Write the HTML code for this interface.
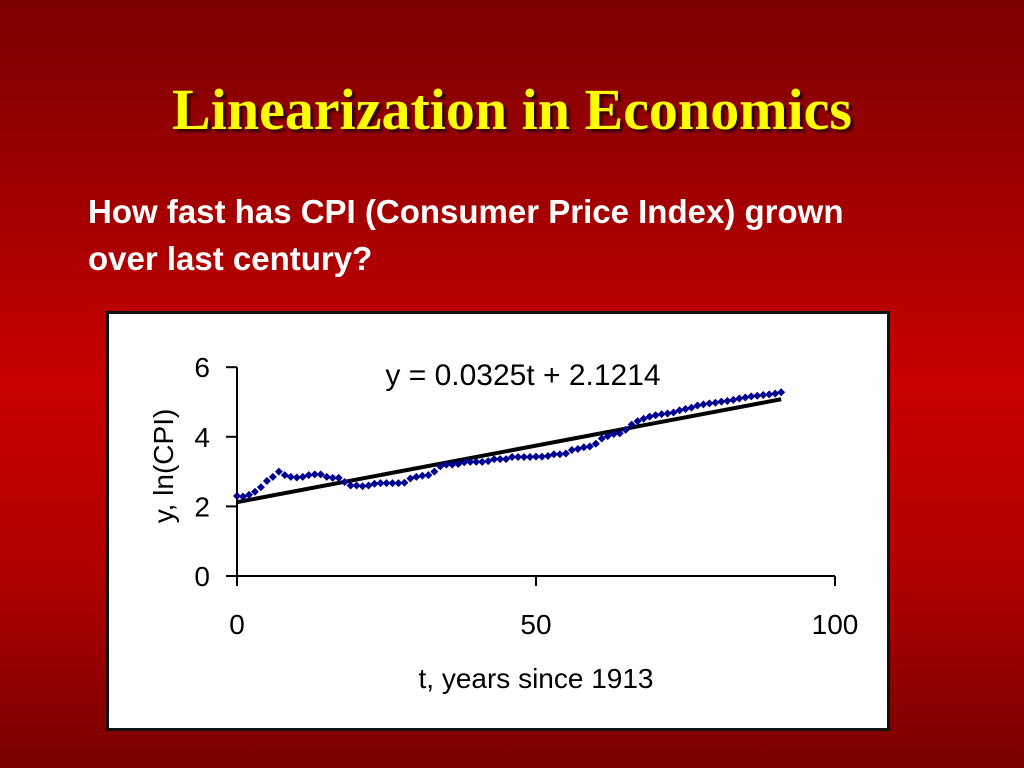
<!DOCTYPE html>
<html><head><meta charset="utf-8">
<style>
html,body{margin:0;padding:0}
body{width:1024px;height:768px;overflow:hidden;position:relative;
background:linear-gradient(to bottom,#7c0000 0%,#a00000 25%,#c80000 50%,#b00000 75%,#780000 100%);}
#title{position:absolute;left:0;width:1024px;top:76px;text-align:center;font-family:"Liberation Serif",serif;font-weight:bold;font-size:58px;color:#ffff00;text-shadow:3px 3px 2px #300;}
#sub{position:absolute;left:88px;top:188px;font-family:"Liberation Sans",sans-serif;font-weight:bold;font-size:33px;line-height:47px;color:#fff;}
#box{position:absolute;left:106px;top:311px;width:778px;height:414px;background:#fff;border:3px solid #111;}
svg{position:absolute;left:0;top:0}
</style></head><body>
<div id="title">Linearization in Economics</div>
<div id="sub">How fast has CPI (Consumer Price Index) grown<br>over last century?</div>
<div id="box"></div>
<svg id="chart" width="1024" height="768" font-family="Liberation Sans, sans-serif"></svg>
<script>
const yValues=[2.30,2.28,2.33,2.42,2.55,2.73,2.85,3.00,2.90,2.85,2.83,2.85,2.90,2.92,2.92,2.85,2.82,2.82,2.70,2.60,2.60,2.58,2.60,2.65,2.67,2.67,2.67,2.67,2.68,2.80,2.85,2.88,2.90,3.00,3.15,3.20,3.20,3.22,3.27,3.28,3.28,3.28,3.30,3.36,3.36,3.36,3.42,3.42,3.42,3.42,3.43,3.43,3.45,3.50,3.50,3.52,3.62,3.65,3.70,3.72,3.80,3.95,4.02,4.08,4.10,4.20,4.35,4.45,4.52,4.58,4.62,4.65,4.67,4.70,4.76,4.80,4.84,4.90,4.93,4.96,4.98,5.01,5.03,5.06,5.10,5.13,5.16,5.18,5.20,5.22,5.24,5.28];
const xTicks=[0,50,100];
const yTicks=[0,2,4,6];
const slope=0.0325, intercept=2.1214;
const NS='http://www.w3.org/2000/svg';
const svg=document.getElementById('chart');
const X=t=>237+t*5.98;
const Y=v=>576-v*34.8;
function mk(tag,attrs){const e=document.createElementNS(NS,tag);for(const k in attrs)e.setAttribute(k,attrs[k]);svg.appendChild(e);return e;}
let e;
e=mk('line',{x1:X(0),y1:Y(6),x2:X(0),y2:586,stroke:'#000','stroke-width':2});


e=mk('line',{x1:226,y1:Y(0),x2:X(100),y2:Y(0),stroke:'#000','stroke-width':2});


yTicks.forEach(v=>{
  e=mk('line',{x1:226,y1:Y(v),x2:X(0),y2:Y(v),stroke:'#000','stroke-width':2});
  
  
  e=mk('text',{x:210,y:Y(v)+10,'font-size':28,'text-anchor':'end',fill:'#000'});
  e.textContent=v;
  
  
});
xTicks.forEach(v=>{
  e=mk('line',{x1:X(v),y1:Y(0),x2:X(v),y2:586,stroke:'#000','stroke-width':2});
  
  
  e=mk('text',{x:X(v),y:634,'font-size':28,'text-anchor':'middle',fill:'#000'});
  e.textContent=v;
  
  
});
e=mk('text',{x:536,y:688,'font-size':28,'text-anchor':'middle',fill:'#000'});
e.textContent='t, years since 1913';


e=mk('text',{x:0,y:0,'font-size':28,'text-anchor':'middle',fill:'#000',transform:'translate(173,466) rotate(-90)'});
e.textContent='y, ln(CPI)';


const tMax=yValues.length-1;
e=mk('line',{x1:X(0),y1:Y(intercept),x2:X(tMax),y2:Y(intercept+slope*tMax),stroke:'#000','stroke-width':4});


yValues.forEach((v,i)=>{
  const cx=X(i),cy=Y(v);
  e=mk('polygon',{points:`${cx},${cy-4} ${cx+4},${cy} ${cx},${cy+4} ${cx-4},${cy}`,fill:'#000090'});
  
  
});
e=mk('text',{x:523,y:385,'font-size':30,'text-anchor':'middle',fill:'#000'});
e.textContent='y = 0.0325t + 2.1214';


</script>
</body></html>
